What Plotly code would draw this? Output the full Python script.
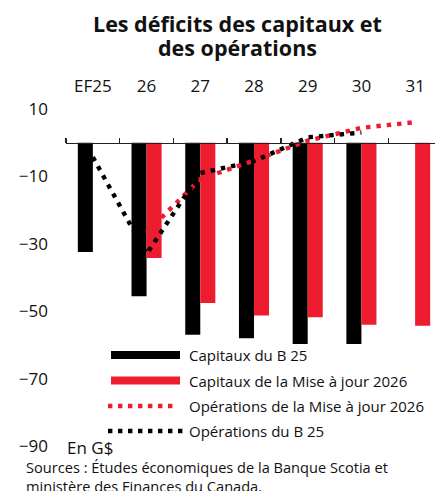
import plotly.graph_objects as go

# ---- data (G$) ----
categories = ["EF25", "26", "27", "28", "29", "30", "31"]
capitaux_b25 = [-32.4, -45.6, -57.0, -58.0, -59.7, -59.7, None]
capitaux_maj2026 = [None, -34.2, -47.6, -51.3, -51.8, -54.0, -54.3]
operations_maj2026 = [None, -26.6, -10.8, -5.3, 0.6, 4.4, 6.1]
operations_b25 = [-4.3, -33.0, -9.0, -5.5, 1.6, 3.0, None]
y_ticks = [10, -10, -30, -50, -70, -90]

series_names = [
    "Capitaux du B 25",
    "Capitaux de la Mise à jour 2026",
    "Opérations de la Mise à jour 2026",
    "Opérations du B 25",
]

RED = "#ED1C2E"
BLACK = "#000000"
FONT = "Open Sans"
TXT = "#111111"

W, H = 435, 491
L, R, T, B = 66, 0, 109, 45
PW, PH = W - L - R, H - T - B


def px(x):
    return (x - L) / PW


def py(y):
    return (H - B - y) / PH


fig = go.Figure()

fig.add_trace(go.Bar(x=categories, y=capitaux_b25, name=series_names[0],
                     marker=dict(color=BLACK, line=dict(width=0)), showlegend=False))
fig.add_trace(go.Bar(x=categories, y=capitaux_maj2026, name=series_names[1],
                     marker=dict(color=RED, line=dict(width=0)), showlegend=False))
fig.add_trace(go.Scatter(x=categories, y=operations_maj2026, name=series_names[2],
                         mode="lines", line=dict(color=RED, width=4.4, dash="4.4px,6px"),
                         showlegend=False))
fig.add_trace(go.Scatter(x=categories, y=operations_b25, name=series_names[3],
                         mode="lines", line=dict(color=BLACK, width=4.4, dash="4.4px,6px"),
                         showlegend=False))
# helper trace so the top label axis is rendered
fig.add_trace(go.Scatter(x=[], y=[], xaxis="x2", showlegend=False, hoverinfo="skip"))

x_range = [-0.5, 6.37]
zero_pos = (0 - y_ticks[-1]) / (y_ticks[0] - y_ticks[-1])

fig.update_layout(
    width=W, height=H,
    margin=dict(l=L, r=R, t=T, b=B, pad=0),
    paper_bgcolor="white", plot_bgcolor="white",
    barmode="group", bargap=0.44, bargroupgap=0,
    font=dict(family=FONT, color=TXT),
    hovermode=False,
    xaxis=dict(type="category", categoryorder="array", categoryarray=categories,
               range=x_range, side="top", anchor="free", position=zero_pos,
               showline=True, linecolor="#222222", linewidth=1.3,
               ticks="outside", tickson="boundaries", ticklen=5, tickwidth=1.3,
               tickcolor="#222222", showticklabels=False, showgrid=False, zeroline=False),
    xaxis2=dict(overlaying="x", side="top", anchor="free", position=1,
                range=x_range, tickmode="array", tickvals=list(range(len(categories))),
                ticktext=categories, showline=False, ticks="", showgrid=False,
                zeroline=False, ticklabelstandoff=14,
                tickfont=dict(family=FONT, size=17, color=TXT)),
    yaxis=dict(range=[y_ticks[-1], y_ticks[0]], tickmode="array", tickvals=y_ticks,
               showgrid=False, zeroline=False, showline=False, ticks="",
               ticklabelstandoff=17,
               tickfont=dict(family=FONT, size=17, color=TXT)),
)

shapes = []
ann = []

# title
ann.append(dict(text="<b>Les déficits des capitaux et</b>", x=px(237), y=py(23),
                xref="paper", yref="paper", xanchor="center", yanchor="middle",
                showarrow=False, font=dict(family=FONT, size=21.5, color=TXT)))
ann.append(dict(text="<b>des opérations</b>", x=px(237), y=py(47.5),
                xref="paper", yref="paper", xanchor="center", yanchor="middle",
                showarrow=False, font=dict(family=FONT, size=21.5, color=TXT)))

# custom legend
rows = [355, 380.5, 406, 431]
shapes.append(dict(type="rect", xref="paper", yref="paper", x0=px(111), x1=px(180),
                   y0=py(rows[0] - 4), y1=py(rows[0] + 4), fillcolor=BLACK, line=dict(width=0)))
shapes.append(dict(type="rect", xref="paper", yref="paper", x0=px(111), x1=px(180),
                   y0=py(rows[1] - 4), y1=py(rows[1] + 4), fillcolor=RED, line=dict(width=0)))
shapes.append(dict(type="line", xref="paper", yref="paper", x0=px(108), x1=px(173),
                   y0=py(rows[2]), y1=py(rows[2]),
                   line=dict(color=RED, width=4.4, dash="4.4px,5.6px")))
shapes.append(dict(type="line", xref="paper", yref="paper", x0=px(108), x1=px(183),
                   y0=py(rows[3]), y1=py(rows[3]),
                   line=dict(color=BLACK, width=4.4, dash="4.4px,5.6px")))
for name, r in zip(series_names, rows):
    ann.append(dict(text=name, x=px(187), y=py(r), xref="paper", yref="paper",
                    xanchor="left", yanchor="middle", showarrow=False,
                    font=dict(family=FONT, size=15, color=TXT)))

# unit + sources
ann.append(dict(text="En G$", x=px(65), y=py(447), xref="paper", yref="paper",
                xanchor="left", yanchor="middle", showarrow=False,
                font=dict(family=FONT, size=17, color=TXT)))
ann.append(dict(text="Sources : Études économiques de la Banque Scotia et<br>"
                     "ministère des Finances du Canada.",
                x=px(24), y=py(455), xref="paper", yref="paper",
                xanchor="left", yanchor="top", align="left", showarrow=False,
                font=dict(family=FONT, size=14.6, color=TXT)))

fig.update_layout(shapes=shapes, annotations=ann)
fig.write_html("out.html",
               config={"displayModeBar": False, "staticPlot": True},
               post_script="document.body.style.margin='0';document.body.style.overflow='hidden';")
